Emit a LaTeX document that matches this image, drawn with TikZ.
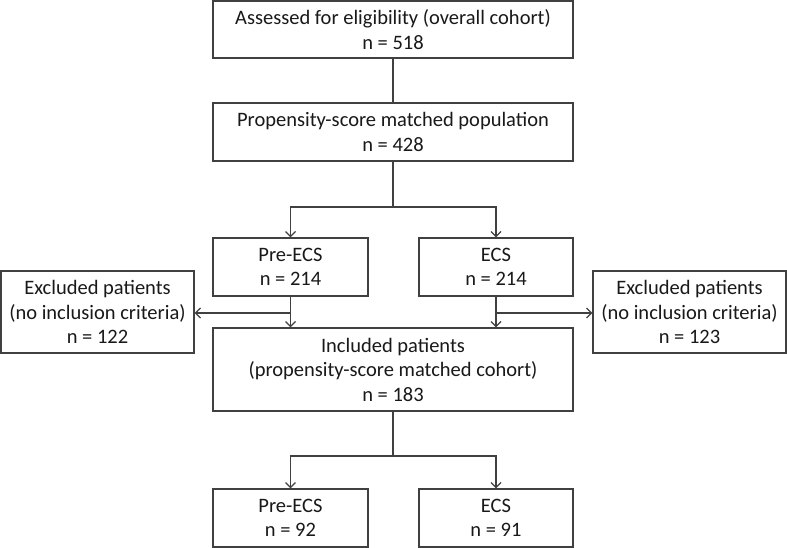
\documentclass[tikz,border=0pt]{standalone}
\usepackage{fontspec}
\setmainfont{Carlito}
\usetikzlibrary{arrows.meta}
\definecolor{ln}{HTML}{404040}
\begin{document}
\begin{tikzpicture}[x=1pt,y=-1pt,
  box/.style={draw=ln,line width=1.3pt,fill=white,align=center,inner sep=0pt,
    font=\fontsize{20.5}{24.5}\selectfont,text=black!90},
  arr/.style={draw=ln,line width=1.2pt,-{Straight Barb[length=5pt,width=10pt]}},
  ln/.style={draw=ln,line width=1.2pt}]
\useasboundingbox (0,0) rectangle (787,548);
\node[box,minimum width=360pt,minimum height=57pt] (b1) at (393,29.5) {Assessed for eligibility (overall cohort)\\n = 518};
\node[box,minimum width=360pt,minimum height=58pt] (b2) at (393,132) {Propensity-score matched population\\n = 428};
\node[box,minimum width=155pt,minimum height=58pt] (pre) at (290.5,267) {Pre-ECS\\n = 214};
\node[box,minimum width=154pt,minimum height=58pt] (ecs) at (496,267) {ECS\\n = 214};
\node[box,minimum width=193pt,minimum height=82pt] (exl) at (97.5,312) {Excluded patients\\(no inclusion criteria)\\n = 122};
\node[box,minimum width=193pt,minimum height=82pt] (exr) at (689.5,312) {Excluded patients\\(no inclusion criteria)\\n = 123};
\node[box,minimum width=360pt,minimum height=83pt] (inc) at (393,369.5) {Included patients\\(propensity-score matched cohort)\\n = 183};
\node[box,minimum width=155pt,minimum height=58pt] (bpre) at (290.5,518) {Pre-ECS\\n = 92};
\node[box,minimum width=154pt,minimum height=58pt] (becs) at (496,518) {ECS\\n = 91};
\coordinate (j1) at (393,207);
\coordinate (j2) at (393,456);
\coordinate (sl) at (290.5,313);
\coordinate (sr) at (496,313);
\draw[ln] (b1) -- (b2);
\draw[arr] (b2.south) -- (j1) -| (pre.north);
\draw[arr] (j1) -| (ecs.north);
\draw[arr] (pre.south) -- (inc.north -| pre.south);
\draw[arr] (ecs.south) -- (inc.north -| ecs.south);
\draw[arr] (sl) -- (exl.east |- sl);
\draw[arr] (sr) -- (exr.west |- sr);
\draw[arr] (inc.south) -- (j2) -| (bpre.north);
\draw[arr] (j2) -| (becs.north);
\end{tikzpicture}
\end{document}
